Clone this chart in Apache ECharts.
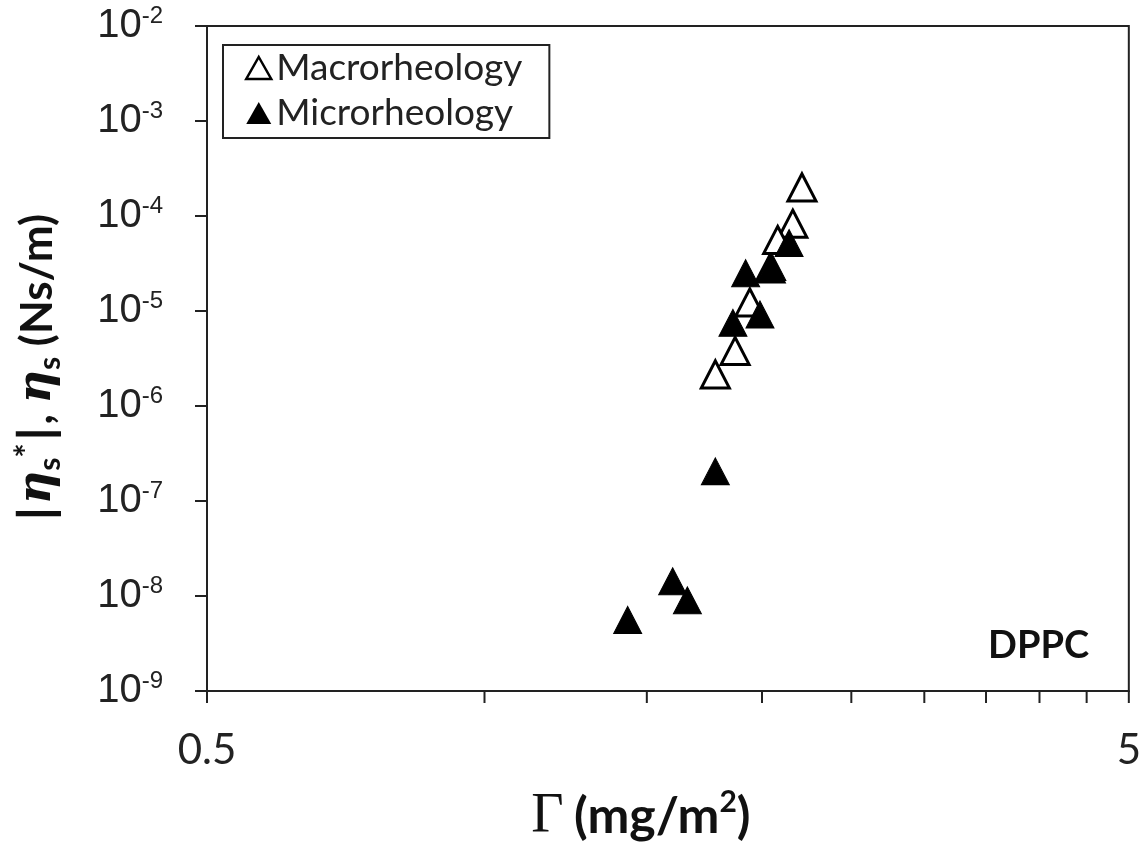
<!DOCTYPE html>
<html>
<head>
<meta charset="utf-8">
<script src="https://cdn.jsdelivr.net/npm/echarts@6/dist/echarts.min.js"></script>
<style>
  html, body { margin: 0; padding: 0; background: #fff; }
  #chart { width: 1144px; height: 850px; }
</style>
</head>
<body>
<div id="chart"></div>
<script>
// ---- Data ----
const seriesNames = ['Macrorheology', 'Microrheology'];
const macroX = [2.21, 2.16, 2.08, 2.04, 1.94, 1.87, 1.78];
const macroY = [2.0e-4, 8.3e-5, 5.6e-5, 2.8e-5, 1.23e-5, 3.8e-6, 2.15e-6];
const microX = [2.14, 2.05, 1.92, 1.99, 1.86, 1.78, 1.60, 1.66, 1.43];
const microY = [5.2e-5, 2.9e-5, 2.5e-5, 9.2e-6, 7.5e-6, 2.05e-7, 1.43e-8, 9.0e-9, 5.6e-9];
const xTickValues = [0.5, 1, 1.5, 2, 2.5, 3, 3.5, 4, 4.5, 5];
const xTickLabels = [0.5, 5];
const xRange = [0.5, 5];
const yRange = [1e-9, 1e-2];
const annotation = 'DPPC';

const pairs = (xs, ys) => xs.map((x, i) => [x, ys[i]]);

const chart = echarts.init(document.getElementById('chart'), null, { renderer: 'canvas' });

const option = {
  backgroundColor: '#fff',
  animation: false,
  grid: {
    left: 207, right: 14, top: 26, bottom: 158,
    show: true, borderColor: '#222', borderWidth: 2, backgroundColor: 'transparent'
  },
  legend: {
    orient: 'vertical',
    left: 223, top: 45,
    itemWidth: 25, itemHeight: 22, itemGap: 5,
    padding: [3, 27, 5, 22],
    borderColor: '#222', borderWidth: 2,
    backgroundColor: '#fff',
    textStyle: { fontFamily: 'Lato', fontSize: 37, lineHeight: 40, color: '#222' },
    data: [
      { name: seriesNames[0], icon: 'triangle', itemStyle: { color: '#fff', borderColor: '#000', borderWidth: 2.5 } },
      { name: seriesNames[1], icon: 'triangle', itemStyle: { color: '#000', borderWidth: 0 } }
    ]
  },
  xAxis: {
    type: 'log', logBase: 10,
    min: xRange[0], max: xRange[1],
    name: '{g|Γ} {b|(mg/m}{sup|2}{b|)}',
    nameLocation: 'middle',
    nameGap: 96,
    nameTextStyle: {
      fontFamily: 'Lato', fontSize: 40, padding: [0, 54, 0, 0],
      rich: {
        g: { fontFamily: 'Liberation Serif', fontSize: 56, lineHeight: 60, color: '#111' },
        b: { fontFamily: 'Lato', fontWeight: 'bold', fontSize: 50, lineHeight: 60, color: '#111' },
        sup: { fontFamily: 'Lato', fontWeight: 'bold', fontSize: 30, lineHeight: 30, verticalAlign: 'top', color: '#111' }
      }
    },
    axisLine: { show: true, lineStyle: { color: '#222', width: 2 } },
    axisTick: { show: false },
    splitLine: { show: false },
    minorTick: { show: false },
    axisLabel: {
      margin: 38,
      fontFamily: 'Lato', fontSize: 42, color: '#222',
      showMinLabel: true, showMaxLabel: true,
      formatter: function (v) {
        for (const t of xTickLabels) { if (Math.abs(v - t) < 1e-6) return String(t); }
        return '';
      }
    }
  },
  yAxis: {
    type: 'log', logBase: 10,
    min: yRange[0], max: yRange[1],
    name: '{bar||}{g|η}{sub|s}{sup|*}{bar||}{b|, }{g|η}{sub|s}{b| (Ns/m)}',
    nameLocation: 'middle',
    nameRotate: 90,
    nameGap: 142,
    nameTextStyle: {
      fontFamily: 'Lato', fontSize: 40, padding: [0, 20, 0, 0],
      rich: {
        bar: { fontFamily: 'Lato', fontWeight: 900, fontSize: 48, lineHeight: 54, color: '#111', padding: [0, 3, 0, 3] },
        b: { fontFamily: 'Lato', fontWeight: 'bold', fontSize: 44, lineHeight: 54, color: '#111' },
        g: { fontFamily: 'DejaVu Serif', fontStyle: 'italic', fontWeight: 'bold', fontSize: 46, lineHeight: 54, color: '#111' },
        sub: { fontFamily: 'Lato', fontWeight: 'bold', fontSize: 30, lineHeight: 30, verticalAlign: 'bottom', color: '#111' },
        sup: { fontFamily: 'Lato', fontWeight: 'bold', fontSize: 34, lineHeight: 32, verticalAlign: 'top', color: '#111' }
      }
    },
    axisLine: { show: true, lineStyle: { color: '#222', width: 2 } },
    axisTick: { show: true, inside: false, length: 12, lineStyle: { color: '#222', width: 2 } },
    splitLine: { show: false },
    axisLabel: {
      margin: 44,
      formatter: function (v) {
        const e = Math.round(Math.log10(v));
        return '{b|10}{s|' + e + '}';
      },
      rich: {
        b: { fontFamily: 'Liberation Sans', fontSize: 40, lineHeight: 44, color: '#222' },
        s: { fontFamily: 'Liberation Sans', fontSize: 24, lineHeight: 24, verticalAlign: 'top', color: '#222' }
      }
    }
  },
  graphic: [
    {
      type: 'text', left: 988, top: 627, z: 100,
      style: { text: annotation, font: 'bold 38px Lato', fill: '#111' }
    }
  ],
  series: [
    {
      name: seriesNames[0], type: 'scatter',
      data: pairs(macroX, macroY),
      symbol: 'triangle', symbolSize: [28, 27],
      itemStyle: { color: '#fff', borderColor: '#000', borderWidth: 3, opacity: 1 },
      z: 2
    },
    {
      name: seriesNames[1], type: 'scatter',
      data: pairs(microX, microY),
      symbol: 'triangle', symbolSize: [28, 27],
      itemStyle: { color: '#000', borderColor: '#000', borderWidth: 1, opacity: 1 },
      z: 3
    },
    {
      name: 'xTicks', type: 'custom',
      data: xTickValues.map(v => [v, yRange[0]]),
      clip: false, silent: true, z: 10,
      renderItem: function (params, api) {
        const p = api.coord([api.value(0), api.value(1)]);
        return {
          type: 'line',
          shape: { x1: p[0], y1: p[1], x2: p[0], y2: p[1] + 12 },
          style: { stroke: '#222', lineWidth: 2 }
        };
      }
    }
  ]
};

chart.setOption(option);
</script>
</body>
</html>
